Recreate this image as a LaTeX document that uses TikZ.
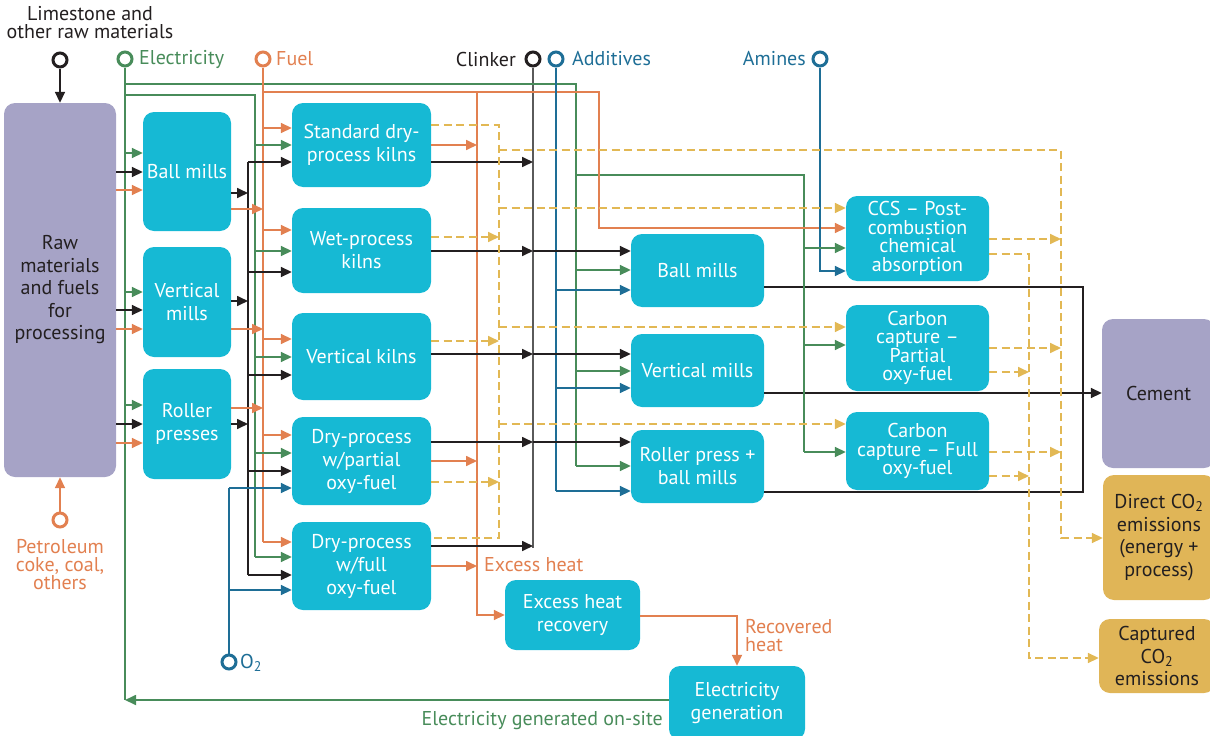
\documentclass[tikz,border=0pt]{standalone}
\usepackage{fontspec}
\setmainfont{PT Sans}
\usetikzlibrary{arrows.meta}

\definecolor{boxcyan}{RGB}{22,185,212}
\definecolor{boxlila}{RGB}{166,163,198}
\definecolor{boxgold}{RGB}{224,181,87}
\definecolor{ink}{RGB}{35,31,32}
\definecolor{gry}{RGB}{90,90,90}
\definecolor{grn}{RGB}{72,140,90}
\definecolor{org}{RGB}{226,128,80}
\definecolor{blu}{RGB}{30,110,150}
\definecolor{yel}{RGB}{226,184,84}

\begin{document}
\begin{tikzpicture}[x=1pt,y=-1pt,
    box/.style={fill=boxcyan, rounded corners=11pt, text=white, align=center, inner sep=0pt,
      font=\fontsize{20}{23}\selectfont},
    cbox/.style={box, font=\fontsize{20}{18.5}\selectfont},
    pbox/.style={box, fill=boxlila, text=ink, font=\fontsize{20}{22.5}\selectfont},
    gbox/.style={box, fill=boxgold, text=ink, font=\fontsize{20}{22.5}\selectfont},
    inp/.style={circle, draw=#1, line width=3pt, fill=white, minimum size=14pt, inner sep=0pt},
    lbl/.style={font=\fontsize{20}{18}\selectfont, inner sep=0pt, align=center},
    ar/.style={-{Triangle[length=11pt,width=10pt]}},
    kl/.style={draw=ink, line width=1.7pt},
    gl/.style={draw=grn, line width=1.7pt},
    ol/.style={draw=org, line width=1.7pt},
    bl/.style={draw=blu, line width=1.7pt},
    yl/.style={draw=yel, line width=1.7pt, dash pattern=on 8pt off 4.5pt}]
    \useasboundingbox (0,0) rectangle (1210,736);
    % bus positions
    \def\xele{125}
    \def\xblk{248}
    \def\xgrn{255}
    \def\xfue{263}
    \def\xoxy{229}
    \def\xhot{477}
    \def\xco{499}
    \def\xcli{533}
    \def\xadd{556}
    \def\xgrb{576}
    \def\xfuc{599}
    \def\xgrc{804}
    \def\xami{820}
    \def\xcap{1029}
    \def\xdir{1061}
    \def\xcem{1083}

    % boxes
    \node[pbox, minimum width=112pt, minimum height=374pt] (raw) at (60,290) {Raw\\materials\\and fuels\\for\\processing};
    \node[box, minimum width=88pt, minimum height=119pt] (bmA) at (187,171.5) {Ball mills};
    \node[box, minimum width=88pt, minimum height=110pt] (vmA) at (187,302) {Vertical\\mills};
    \node[box, minimum width=88pt, minimum height=110pt] (rpA) at (187,424) {Roller\\presses};
    \node[box, minimum width=139pt, minimum height=84pt] (sdk) at (361.5,145) {Standard dry-\\process kilns};
    \node[box, minimum width=139pt, minimum height=85pt] (wpk) at (361.5,250.5) {Wet-process\\kilns};
    \node[box, minimum width=139pt, minimum height=87pt] (vk) at (361.5,356.5) {Vertical kilns};
    \node[box, minimum width=139pt, minimum height=88pt] (dpp) at (361.5,461) {Dry-process\\w/partial\\oxy-fuel};
    \node[box, minimum width=139pt, minimum height=88pt] (dpf) at (361.5,566) {Dry-process\\w/full\\oxy-fuel};
    \node[box, minimum width=133pt, minimum height=73pt] (bmB) at (697.5,270.5) {Ball mills};
    \node[box, minimum width=133pt, minimum height=73pt] (vmB) at (697.5,370.5) {Vertical mills};
    \node[box, minimum width=133pt, minimum height=73pt] (rpB) at (697.5,466.5) {Roller press +\\ball mills};
    \node[cbox, minimum width=143pt, minimum height=85pt] (ccs) at (917.5,238.5) {CCS -- Post-\\combustion\\chemical\\absorption};
    \node[cbox, minimum width=143pt, minimum height=86pt] (ccp) at (917.5,348) {Carbon\\capture --\\Partial\\oxy-fuel};
    \node[cbox, minimum width=143pt, minimum height=78pt] (ccf) at (917.5,451) {Carbon\\capture -- Full\\oxy-fuel};
    \node[pbox, minimum width=113pt, minimum height=149pt] (cem) at (1158.5,393.5) {Cement};
    \node[gbox, minimum width=112pt, minimum height=125pt] (dco) at (1159,537.5) {Direct CO\textsubscript{2}\\emissions\\(energy +\\process)};
    \node[gbox, minimum width=116pt, minimum height=74pt] (cap) at (1157,656) {Captured\\CO\textsubscript{2}\\emissions};
    \node[box, minimum width=135pt, minimum height=70pt] (ehr) at (572.5,615) {Excess heat\\recovery};
    \node[box, minimum width=136pt, minimum height=74pt] (elg) at (737,703) {Electricity\\generation};

    % inputs
    \node[inp=ink] (lim) at (60,60) {};
    \node[inp=grn] (ele) at (\xele,59) {};
    \node[inp=org] (fue) at (\xfue,59) {};
    \node[inp=ink] (cli) at (\xcli,59) {};
    \node[inp=blu] (add) at (\xadd,59) {};
    \node[inp=blu] (ami) at (\xami,59) {};
    \node[inp=blu] (oxy) at (\xoxy,662) {};
    \node[inp=org] (pet) at (60,520) {};
    \node[lbl, text=ink] (limt) at (90,23) {Limestone and\\other raw materials};
    \node[lbl, text=grn, anchor=west] (elet) at (139,59) {Electricity};
    \node[lbl, text=org, anchor=west] (fuet) at (276,59) {Fuel};
    \node[lbl, text=ink, anchor=east] (clit) at (516,59) {Clinker};
    \node[lbl, text=blu, anchor=west] (addt) at (572,59) {Additives};
    \node[lbl, text=blu, anchor=east] (amit) at (806,59) {Amines};
    \node[lbl, text=blu, anchor=west] (oxyt) at (240,663) {O\textsubscript{2}};
    \node[lbl, text=org] (pett) at (60,565) {Petroleum\\coke, coal,\\others};
    \node[lbl, text=org, anchor=west] (hott) at (484,565) {Excess heat};
    \node[lbl, text=org, anchor=west, align=left] (rect) at (745,636) {Recovered\\heat};
    \node[lbl, text=grn, anchor=east] (gent) at (663,721) {Electricity generated on-site};

    % black: raw materials and clinker
    \draw[kl,ar] (lim) -- (raw);
    \draw[kl] (\xblk,162) -- (\xblk,575);
    \draw[gry, line width=1.7pt] (cli) -- (\xcli,548);
    \draw[kl] (bmB.east |- 0,287) -- (\xcem,287) -- (\xcem,492) -- (rpB.east |- 0,492);
    \draw[kl,ar] (vmB.east |- 0,393) -- (cem.west |- 0,393);

    % green: electricity
    \draw[gl] (ele) -- (\xele,700);
    \draw[gl,ar] (elg.west |- 0,700) -- (\xele,700);
    \draw[gl] (\xele,84) -- (\xgrb,84) -- (\xgrb,466);
    \draw[gl] (\xgrb,175) -- (\xgrc,175) -- (\xgrc,452);
    \draw[gl] (\xele,95) -- (\xgrn,95) -- (\xgrn,557);

    % orange: fuel and heat
    \draw[ol,ar] (pet) -- (raw);
    \draw[ol] (fue) -- (\xfue,542);
    \draw[ol,ar] (\xfue,92) -- (\xfuc,92) -- (\xfuc,228) -- (ccs.west |- 0,228);
    \draw[ol,ar] (\xhot,92) -- (\xhot,615) -- (ehr.west |- 0,615);
    \draw[ol,ar] (ehr.east |- 0,616) -- (elg.north |- 0,616) -- (elg.north);

    % blue: additives, amines, oxygen
    \draw[bl] (add) -- (\xadd,491);
    \draw[bl,ar] (ami) -- (\xami,271) -- (ccs.west |- 0,271);
    \draw[bl] (oxy) -- (\xoxy,488);

    % first mills
    \foreach \m/\g/\k/\o in {bmA/153/172/190, vmA/292/310/329, rpA/405/424/443} {
      \draw[gl,ar] (\xele,\g) -- (\m.west |- 0,\g);
      \draw[kl,ar] (raw.east |- 0,\k) -- (\m.west |- 0,\k);
      \draw[ol,ar] (raw.east |- 0,\o) -- (\m.west |- 0,\o);
    }
    \foreach \m/\k/\o in {bmA/193/209, vmA/301/329, rpA/424/408} {
      \draw[kl,ar] (\m.east |- 0,\k) -- (\xblk,\k);
      \draw[ol,ar] (\m.east |- 0,\o) -- (\xfue,\o);
    }

    % kilns
    \foreach \n/\o/\g/\k/\c in {sdk/128/145/162/162, wpk/230/251/272/251, vk/339/357/375/354, dpp/435/453/471/442, dpf/542/557/575/546} {
      \draw[ol,ar] (\xfue,\o) -- (\n.west |- 0,\o);
      \draw[gl,ar] (\xgrn,\g) -- (\n.west |- 0,\g);
      \draw[kl,ar] (\xblk,\k) -- (\n.west |- 0,\k);
      \draw[kl,ar] (\n.east |- 0,\c) -- (\xcli,\c);
    }
    \draw[bl,ar] (\xoxy,488) -- (dpp.west |- 0,488);
    \draw[bl,ar] (\xoxy,590) -- (dpf.west |- 0,590);
    \foreach \n/\h in {sdk/145, dpp/461, dpf/566}
      \draw[ol,ar] (\n.east |- 0,\h) -- (\xhot,\h);

    % CO2 from kilns
    \draw[yl] (sdk.east |- 0,125) -- (\xco,125) -- (\xco,538) -- (dpf.east |- 0,538);
    \foreach \n/\h in {wpk/237, vk/341, dpp/482}
      \draw[yl,ar] (\n.east |- 0,\h) -- (\xco,\h);
    \draw[yl,ar] (\xco,150) -- (\xdir,150) -- (\xdir,538) -- (dco.west |- 0,538);

    % second mills
    \foreach \m/\k/\g/\b in {bmB/251/270/290, vmB/354/371/388, rpB/442/466/491} {
      \draw[kl,ar] (\xcli,\k) -- (\m.west |- 0,\k);
      \draw[gl,ar] (\xgrb,\g) -- (\m.west |- 0,\g);
      \draw[bl,ar] (\xadd,\b) -- (\m.west |- 0,\b);
    }

    % carbon capture
    \foreach \n/\y/\g/\d/\c in {ccs/208/248/239/254, ccp/327/345/348/372, ccf/424/452/452/476} {
      \draw[yl,ar] (\xco,\y) -- (\n.west |- 0,\y);
      \draw[gl,ar] (\xgrc,\g) -- (\n.west |- 0,\g);
      \draw[yl,ar] (\n.east |- 0,\d) -- (\xdir,\d);
    }
    \draw[yl,ar] (ccs.east |- 0,254) -- (\xcap,254) -- (\xcap,658) -- (cap.west |- 0,658);
    \foreach \n/\c in {ccp/372, ccf/476}
      \draw[yl,ar] (\n.east |- 0,\c) -- (\xcap,\c);
\end{tikzpicture}
\end{document}
